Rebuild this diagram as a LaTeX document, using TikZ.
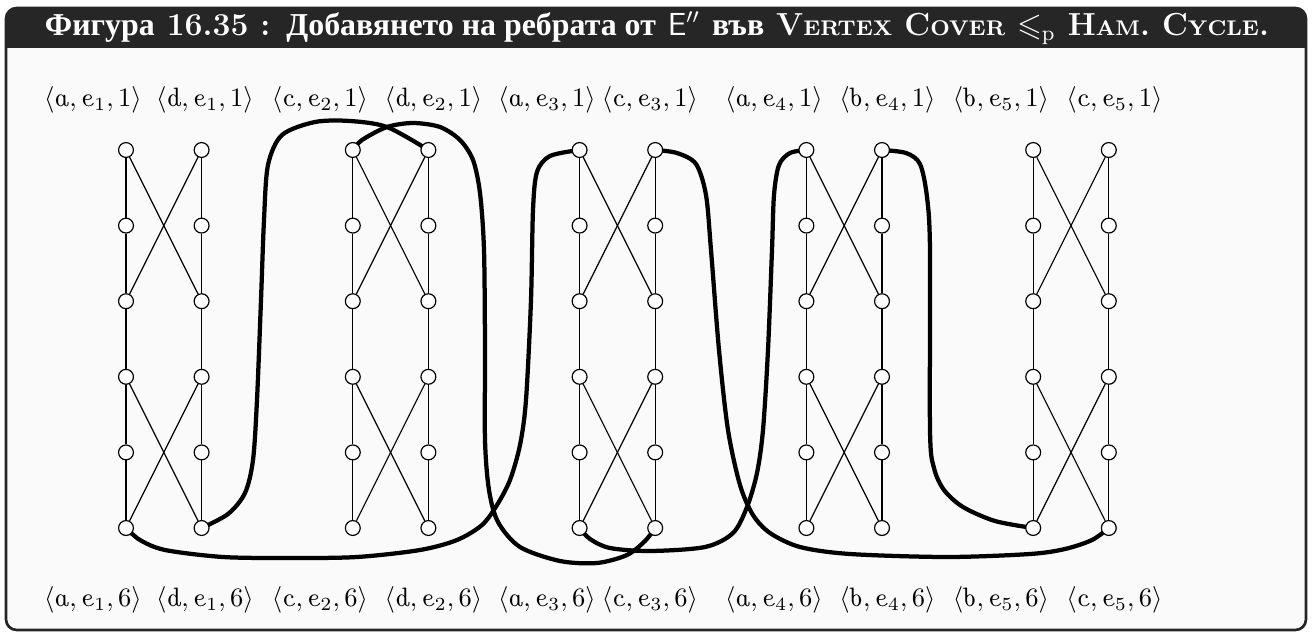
\documentclass[tikz,border=0pt]{standalone}
\usepackage{amssymb}
\usepackage{fontspec}
\newfontfamily\cyr{Liberation Serif}
\definecolor{barc}{HTML}{262626}
\definecolor{bodyc}{HTML}{FAFAFA}
\pgfdeclarelayer{back}
\pgfdeclarelayer{edges}
\pgfsetlayers{back,edges,main}
\newcommand\ui[1]{\mbox{\fontshape{ui}\selectfont #1}}
\newcommand\lbl[3]{$\langle\ui{#1},\ui{e}_{#2},#3\rangle$}
\newcommand\fsc[1]{{\footnotesize #1}}
\begin{document}
\begin{tikzpicture}[x=0.3764pt,y=-0.3764pt,
  v/.style={circle,draw,fill=white,inner sep=0pt,minimum size=5.6pt,line width=0.45pt},
  thinedge/.style={line width=0.45pt},
  hpath/.style={line width=1.6pt,line cap=round,line join=round},
  lab/.style={inner sep=0pt,anchor=center}]
\useasboundingbox (0,0) rectangle (1312,634);
\begin{pgfonlayer}{back}
  \fill[white] (0,0) rectangle (1312,634);
  \begin{scope}
    \clip[rounded corners=4pt] (6,8) rectangle (1306,630);
    \fill[bodyc] (0,0) rectangle (1312,634);
    \fill[barc] (0,0) rectangle (1312,48);
  \end{scope}
  \draw[barc,line width=1pt,rounded corners=4pt] (6,8) rectangle (1306,630);
\end{pgfonlayer}
\node[text=white,font=\large\bfseries,inner sep=0pt] (title) at (657,28)
  {{\cyr Фигура} 16.35 : {\cyr Добавянето на ребрата от} $\mathsf{E}''$ {\cyr във} V\fsc{ERTEX} C\fsc{OVER} $\leqslant_{\mathrm{p}}$ H\fsc{AM}. C\fsc{YCLE}.};
% gadget vertices
\foreach \i in {1,...,5}{
  \foreach \r in {1,...,6}{
    \node[v] (g\i L\r) at ({126+226.8*(\i-1)},{150+75.6*(\r-1)}) {};
    \node[v] (g\i R\r) at ({201.6+226.8*(\i-1)},{150+75.6*(\r-1)}) {};
  }
}
% gadget edges
\foreach \i in {1,...,5}{
  \foreach \r/\s in {1/2,2/3,3/4,4/5,5/6}{
    \draw[thinedge] (g\i L\r) -- (g\i L\s);
    \draw[thinedge] (g\i R\r) -- (g\i R\s);
  }
  \draw[thinedge] (g\i L1) -- (g\i R3);
  \draw[thinedge] (g\i R1) -- (g\i L3);
  \draw[thinedge] (g\i L4) -- (g\i R6);
  \draw[thinedge] (g\i R4) -- (g\i L6);
}
% cycle edges
\begin{pgfonlayer}{edges}
\draw[hpath] plot[smooth,tension=0.5] coordinates {(g1R6) (228,514) (245,493) (253,460) (257,400) (261,300) (264,220) (268,165) (282,135) (315,122) (350,121) (387,127) (g2R1)};
\draw[hpath] plot[smooth,tension=0.5] coordinates {(g2L1) (362,140) (387,127) (413,123) (440,127) (460,140) (473,160) (480,193) (484,250) (485,350) (485,440) (489,490) (498,522) (520,547) (560,561) (597,563) (627,555) (645,541) (g3R6)};
\draw[hpath] plot[smooth,tension=0.5] coordinates {(g1L6) (140,540) (165,550) (223,557) (290,558) (357,557) (420,550) (457,540) (482,525) (497,505) (510,480) (520,445) (526,400) (531,300) (533,210) (537,172) (550,156) (g3L1)};
\draw[hpath] plot[smooth,tension=0.5] coordinates {(g3L6) (590,539) (610,548) (650,551) (705,547) (733,533) (747,507) (757,473) (763,430) (768,350) (772,250) (774,195) (779,165) (790,153) (g4L1)};
\draw[hpath] plot[smooth,tension=0.5] coordinates {(g3R1) (677,153) (696,164) (706,195) (711,250) (719,350) (728,430) (740,485) (753,515) (770,533) (800,547) (850,554) (947,557) (1030,554) (1065,549) (1092,540) (g5R6)};
\draw[hpath] plot[smooth,tension=0.5] coordinates {(g4R1) (906,153) (920,164) (927,197) (930,250) (930,430) (934,468) (944,490) (963,507) (995,521) (g5L6)};
\end{pgfonlayer}
% labels
\foreach \x/\a/\k [count=\n] in {93/a/1,205/d/1,320/c/2,433.5/d/2,547/a/3,650/c/3,774/a/4,887.5/b/4,1001/b/5,1114.5/c/5}{
  \node[lab] (top\n) at (\x,100) {\lbl{\a}{\k}{1}};
  \node[lab] (bot\n) at (\x,600) {\lbl{\a}{\k}{6}};
}
\end{tikzpicture}
\end{document}
